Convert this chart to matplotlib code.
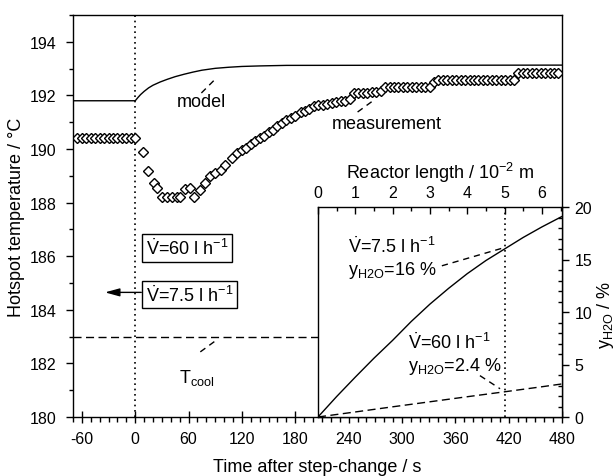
import matplotlib
matplotlib.use("Agg")
import matplotlib.pyplot as plt
from matplotlib.ticker import MultipleLocator

plt.rcParams['font.family'] = ['Liberation Sans', 'DejaVu Sans']
plt.rcParams['mathtext.fontset'] = 'custom'
plt.rcParams['mathtext.rm'] = 'Liberation Sans'
plt.rcParams['mathtext.it'] = 'Liberation Sans:italic'
plt.rcParams['mathtext.bf'] = 'Liberation Sans:bold'
plt.rcParams['axes.unicode_minus'] = False

# --- hotspot temperature: measurement (s, degC) ---
meas_t = [-65, -60, -55, -50, -45, -40, -35, -30, -25, -20, -15, -10, -5, 0,
          8.6, 13.9, 21.4, 25, 30, 35.7, 41, 47, 50, 56, 62, 66.5, 73, 79, 84.5,
          90, 96, 101, 109, 114.6, 120, 125, 130, 135, 140, 145, 150, 155, 160,
          165, 170, 175, 180, 186, 191, 196, 201, 206, 211, 216, 221, 226, 231,
          236, 241, 246, 251, 256, 261, 266, 271, 276, 281, 286, 291, 296, 301,
          306, 311, 316, 321, 326, 331, 336, 341, 346, 351, 356, 361, 366, 371,
          376, 381, 386, 391, 396, 401, 406, 411, 416, 421, 426, 431, 436, 441,
          446, 451, 456, 461, 466, 471, 476]
meas_T = [190.4, 190.4, 190.4, 190.4, 190.4, 190.4, 190.4, 190.4, 190.4, 190.4,
          190.4, 190.4, 190.4, 190.42,
          189.88, 189.19, 188.72, 188.53, 188.2, 188.2, 188.2, 188.2, 188.22,
          188.5, 188.53, 188.2, 188.48, 188.72, 189.0, 189.1, 189.23, 189.4,
          189.65, 189.85, 189.95, 190.05, 190.2, 190.3, 190.4, 190.5, 190.62,
          190.72, 190.85, 190.98, 191.1, 191.15, 191.22, 191.37, 191.42, 191.5,
          191.62, 191.65, 191.65, 191.68, 191.72, 191.75, 191.8, 191.8, 191.87,
          192.08, 192.1, 192.1, 192.1, 192.12, 192.14, 192.18, 192.3, 192.3,
          192.3, 192.3, 192.3, 192.3, 192.3, 192.3, 192.3, 192.3, 192.3, 192.5,
          192.58, 192.58, 192.58, 192.58, 192.58, 192.58, 192.58, 192.58,
          192.58, 192.58, 192.58, 192.58, 192.58, 192.58, 192.58, 192.58,
          192.58, 192.58, 192.84, 192.84, 192.84, 192.84, 192.84, 192.84,
          192.84, 192.84, 192.84, 192.84]

# --- hotspot temperature: model ---
model_t = [-70, 0, 3, 6, 10, 15, 20, 28, 36, 45, 55, 65, 75, 90, 105, 120,
           140, 170, 480]
model_T = [191.8, 191.8, 191.92, 192.03, 192.15, 192.28, 192.38, 192.5, 192.6,
           192.7, 192.79, 192.87, 192.94, 193.01, 193.05, 193.08, 193.1,
           193.12, 193.13]

T_cool = 183.0

# --- water fraction along the reactor (inset) ---
length_75 = [0, 0.5, 1, 1.5, 2, 2.5, 3, 3.5, 4, 4.5, 5, 5.5, 6, 6.54]
yh2o_75 = [0, 1.95, 3.8, 5.6, 7.3, 9.1, 10.75, 12.25, 13.65, 14.9, 16.0, 17.1,
           18.1, 19.1]
length_60 = [0, 1, 2, 3, 4, 5, 6, 6.54]
yh2o_60 = [0, 0.48, 0.97, 1.45, 1.93, 2.4, 2.88, 3.15]

W, H = 616, 477
fig = plt.figure(figsize=(W / 100, H / 100), dpi=100)

ax = fig.add_axes([73 / W, 1 - 418 / H, (562 - 73) / W, (418 - 16) / H])
ax.set_xlim(-70, 480)
ax.set_ylim(180, 195)
ax.set_xticks(range(-60, 481, 60))
ax.xaxis.set_minor_locator(MultipleLocator(10))
ax.set_yticks(range(180, 195, 2))
ax.yaxis.set_minor_locator(MultipleLocator(1))
for s in ax.spines.values():
    s.set_linewidth(1.0)
ax.tick_params(axis='x', which='major', direction='inout', length=8, width=1,
               labelsize=11.5, pad=6)
ax.tick_params(axis='x', which='minor', direction='out', length=3.5, width=1)
ax.tick_params(axis='y', which='major', direction='out', length=5, width=1,
               labelsize=11.5, pad=7)
ax.tick_params(axis='y', which='minor', direction='out', length=3, width=1)
ax.set_xlabel('Time after step-change / s', fontsize=13, labelpad=9)
ax.set_ylabel('Hotspot temperature / °C', fontsize=13, labelpad=3)

DASH = (5.8, 3.2)
LEAD = (4.5, 3.5)
ax.axvline(0, color='k', ls=(0, (1, 2.2)), lw=1.2)
ax.axhline(T_cool, color='k', lw=1, dashes=DASH)
ax.plot(model_t, model_T, color='k', lw=1)
ax.plot(meas_t, meas_T, ls='none', marker='D', ms=5.0, mfc='white',
        mec='k', mew=1.0)

# annotations in the temperature plot
ax.text(74.4, 191.59, 'model', fontsize=13, ha='center', va='baseline')
ax.plot([74.4, 91.3], [192.09, 192.65], color='k', lw=1, dashes=LEAD)
ax.text(282.8, 190.77, 'measurement', fontsize=13, ha='center', va='baseline')
ax.plot([250.1, 267], [191.38, 191.79], color='k', lw=1, dashes=LEAD)
ax.text(68.7, 181.31, r'T$_{\mathrm{cool}}$', fontsize=13, ha='center',
        va='baseline')
ax.plot([73.2, 90.1], [182.43, 182.84], color='k', lw=1, dashes=LEAD)

box = dict(boxstyle='square,pad=0.2', fc='white', ec='k', lw=1)
ax.text(11.6, 186.08, r'$\dot{\mathrm{V}}$=60 l h$^{-1}$', fontsize=13,
        ha='left', va='baseline', bbox=box)
ax.text(11.6, 184.34, r'$\dot{\mathrm{V}}$=7.5 l h$^{-1}$', fontsize=13,
        ha='left', va='baseline', bbox=box)
ax.annotate('', xy=(-34, 184.65), xytext=(6.8, 184.65),
            arrowprops=dict(arrowstyle='-|>,head_length=0.8,head_width=0.22',
                            color='k', lw=1, mutation_scale=11,
                            shrinkA=0, shrinkB=0))

# --- inset: water fraction vs reactor length ---
axin = fig.add_axes([318 / W, 1 - 418 / H, (562 - 318) / W, (418 - 208) / H])
axin.set_zorder(3)
axin.set_facecolor('white')
axin.set_xlim(0, 6.54)
axin.set_ylim(0, 20)
for s in axin.spines.values():
    s.set_linewidth(1.0)
axin.xaxis.tick_top()
axin.xaxis.set_label_position('top')
axin.yaxis.tick_right()
axin.set_xticks(range(0, 7))
axin.xaxis.set_minor_locator(MultipleLocator(0.5))
axin.set_yticks(range(0, 21, 5))
axin.yaxis.set_minor_locator(MultipleLocator(1))
axin.tick_params(axis='x', which='major', direction='in', length=5, width=1,
                 labelsize=11.5, pad=5, bottom=False, top=True)
axin.tick_params(axis='x', which='minor', direction='in', length=3, width=1,
                 bottom=False, top=True)
axin.tick_params(axis='y', which='major', direction='out', length=5, width=1,
                 labelsize=11.5, pad=4, left=False, right=True)
axin.tick_params(axis='y', which='minor', direction='in', length=3, width=1,
                 left=False, right=True)
axin.set_xlabel('Reactor length / 10$^{-2}$ m', fontsize=13, labelpad=5)

axin.axvline(5, color='k', ls=(0, (1, 2.2)), lw=1.2)
axin.plot(length_75, yh2o_75, color='k', lw=1)
axin.plot(length_60, yh2o_60, color='k', lw=1, dashes=DASH)

axin.text(0.80, 15.74, r'$\dot{\mathrm{V}}$=7.5 l h$^{-1}$', fontsize=13,
          ha='left', va='baseline')
axin.text(0.80, 13.59, r'y$_{\mathrm{H2O}}$=16 %', fontsize=13,
          ha='left', va='baseline')
axin.plot([3.32, 5.01], [14.4, 16.15], color='k', lw=1, dashes=LEAD)
axin.text(2.41, 6.54, r'$\dot{\mathrm{V}}$=60 l h$^{-1}$', fontsize=13,
          ha='left', va='baseline')
axin.text(2.41, 4.45, r'y$_{\mathrm{H2O}}$=2.4 %', fontsize=13,
          ha='left', va='baseline')
axin.plot([4.34, 4.88], [3.94, 2.69], color='k', lw=1, dashes=LEAD)

fig.text(606 / W, 1 - 315 / H, r'y$_{\mathrm{H2O}}$ / %', fontsize=13,
         rotation=90, ha='center', va='center')

fig.savefig('out.png', dpi=100)
